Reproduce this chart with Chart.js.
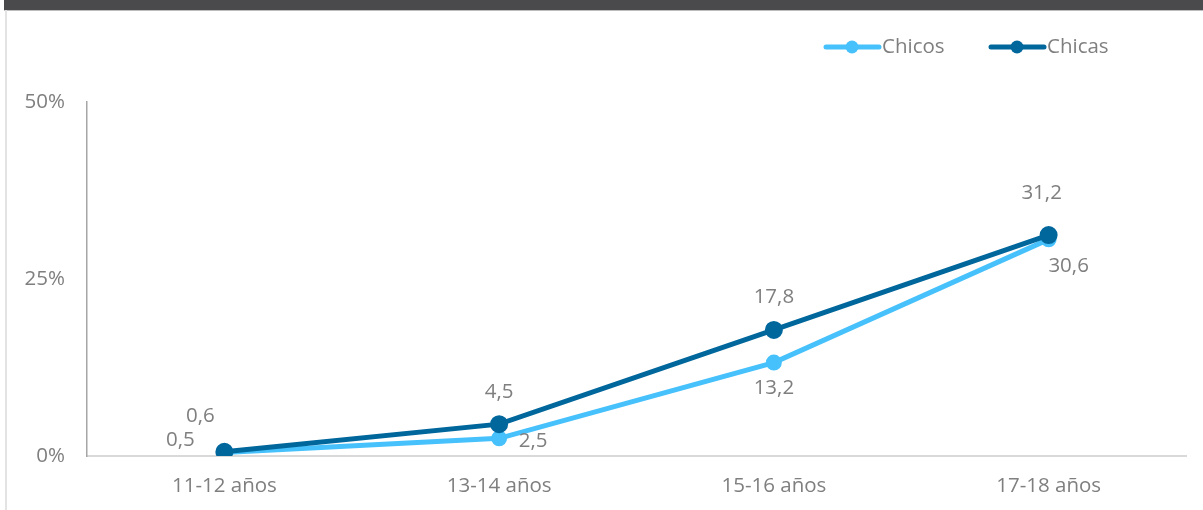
<!DOCTYPE html>
<html>
<head>
<meta charset="utf-8">
<script src="https://cdn.jsdelivr.net/npm/chart.js"></script>
<style>
  html, body { margin: 0; padding: 0; background: #fff; }
  #wrap { position: relative; width: 1203px; height: 510px; overflow: hidden; }
  #topbar { position: absolute; left: 4px; top: 0; width: 1199px; height: 10px; background: #4a4a4c; border-bottom: 1px solid #bdbdbd; }
  #leftline { position: absolute; left: 5px; top: 10px; width: 2px; height: 500px; background: #e3e3e3; }
  canvas { position: absolute; left: 0; top: 0; }
</style>
</head>
<body>
<div id="wrap">
  <div id="topbar"></div>
  <div id="leftline"></div>
  <canvas id="chart" width="1203" height="510"></canvas>
</div>
<script>
const categories = ['11-12 años', '13-14 años', '15-16 años', '17-18 años'];
const chicos = [0.5, 2.5, 13.2, 30.6];
const chicas = [0.6, 4.5, 17.8, 31.2];
const yTicks = [0, 25, 50];

const FONT = '"Open Sans", Lato, sans-serif';
const FSIZE = 20.5;
const TEXT = '#7f7f7f';
const LIGHT = '#47c1fb';
const DARK = '#00679c';

// where each value label sits relative to its point
const labelOffsets = {
    0: [[-44, -12], [34, 3], [0, 26], [20, 27]],
    1: [[-24, -36], [0, -32], [0, -33], [-7, -42]]
};

const valueLabels = {
    id: 'valueLabels',
    afterDatasetsDraw(chart) {
        const ctx = chart.ctx;
        ctx.save();
        ctx.font = FSIZE + 'px ' + FONT;
        ctx.fillStyle = TEXT;
        ctx.textAlign = 'center';
        ctx.textBaseline = 'middle';
        chart.data.datasets.forEach((ds, i) => {
            chart.getDatasetMeta(i).data.forEach((pt, j) => {
                const off = labelOffsets[i][j];
                const txt = ds.data[j].toFixed(1).replace('.', ',');
                ctx.fillText(txt, pt.x + off[0], pt.y + off[1]);
            });
        });
        ctx.restore();
    }
};

const legendLines = {
    id: 'legendLines',
    afterDraw(chart) {
        const ctx = chart.ctx;
        const items = [
            { x: 824, ds: chart.data.datasets[0] },
            { x: 989, ds: chart.data.datasets[1] }
        ];
        ctx.save();
        items.forEach(it => {
            const y = 47;
            ctx.strokeStyle = it.ds.borderColor;
            ctx.lineWidth = 5;
            ctx.lineCap = 'round';
            ctx.beginPath();
            ctx.moveTo(it.x + 2, y);
            ctx.lineTo(it.x + 55, y);
            ctx.stroke();
            ctx.fillStyle = it.ds.borderColor;
            ctx.beginPath();
            ctx.arc(it.x + 28, y, 6.5, 0, Math.PI * 2);
            ctx.fill();
            ctx.font = FSIZE + 'px ' + FONT;
            ctx.fillStyle = TEXT;
            ctx.textAlign = 'left';
            ctx.textBaseline = 'middle';
            ctx.fillText(it.ds.label, it.x + 58, y);
        });
        ctx.restore();
    }
};

new Chart(document.getElementById('chart').getContext('2d'), {
    type: 'line',
    data: {
        labels: categories,
        datasets: [
            {
                label: 'Chicos',
                data: chicos,
                order: 2,
                borderColor: LIGHT,
                backgroundColor: LIGHT,
                borderWidth: 5,
                pointRadius: 5.5,
                pointHoverRadius: 5.5,
                tension: 0
            },
            {
                label: 'Chicas',
                data: chicas,
                order: 1,
                borderColor: DARK,
                backgroundColor: DARK,
                borderWidth: 5,
                pointRadius: 6.5,
                pointHoverRadius: 6.5,
                tension: 0
            }
        ]
    },
    options: {
        responsive: false,
        animation: false,
        layout: { padding: { top: 102, right: 17, bottom: 0, left: 0 } },
        plugins: {
            legend: { display: false },
            tooltip: { enabled: false }
        },
        scales: {
            x: {
                offset: true,
                afterFit(scale) { scale.height = 54; },
                grid: { display: false, drawTicks: false },
                border: { color: '#d9d9d9', width: 2 },
                ticks: { color: TEXT, font: { family: FONT, size: FSIZE }, padding: 18, maxRotation: 0 }
            },
            y: {
                min: 0,
                max: 50,
                afterBuildTicks(scale) {
                    scale.ticks = yTicks.map(v => ({ value: v }));
                },
                afterFit(scale) { scale.width = 87; },
                grid: { display: false, drawTicks: false },
                border: { color: '#a6a6a6', width: 1.5 },
                ticks: {
                    color: TEXT,
                    font: { family: FONT, size: FSIZE },
                    padding: 22,
                    callback: v => v + '%'
                }
            }
        }
    },
    plugins: [valueLabels, legendLines]
});
</script>
</body>
</html>
